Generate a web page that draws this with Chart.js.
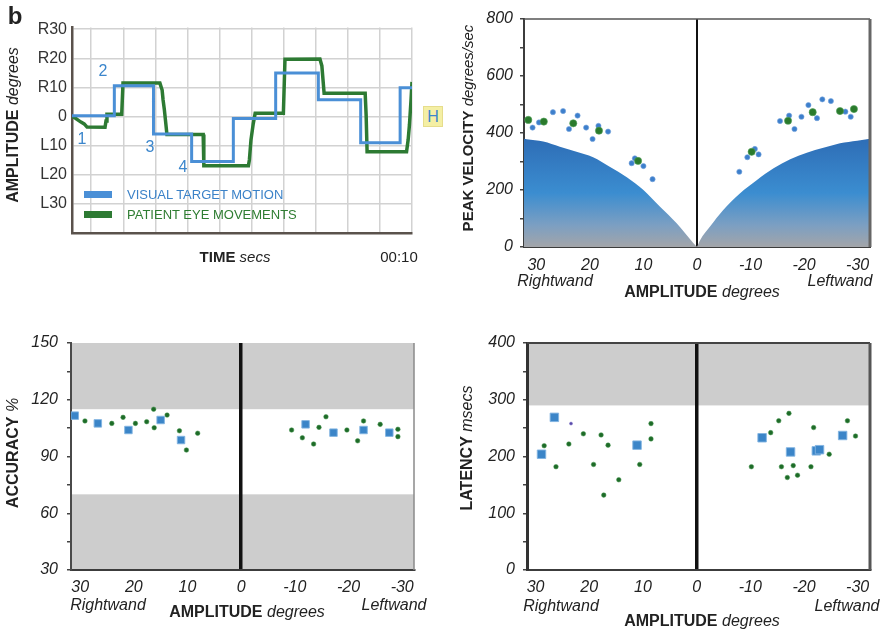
<!DOCTYPE html>
<html>
<head>
<meta charset="utf-8">
<script src="https://cdn.jsdelivr.net/npm/chart.js@4.4.1/dist/chart.umd.min.js"></script>
<style>
  html, body { margin: 0; padding: 0; background: #fff; }
  #page { position: relative; width: 890px; height: 633px; overflow: hidden;
          font-family: 'Liberation Sans', Arial, sans-serif; color: #222; }
  canvas { position: absolute; }
  .lbl { position: absolute; white-space: nowrap; transform: translate(-50%, -50%);
         line-height: 1; font-size: 16px; }
  .rot { transform: translate(-50%, -50%) rotate(-90deg); }
  .lbl i { font-style: italic; font-weight: normal; }
  .step { color: #3b86cc; }
  .key { position: absolute; width: 28px; height: 7px; }
</style>
</head>
<body>
<div id="page">
  <canvas id="trace" width="445" height="316" style="left:0;top:0"></canvas>
  <canvas id="velocity" width="445" height="316" style="left:445px;top:0"></canvas>
  <canvas id="accuracy" width="445" height="317" style="left:0;top:316px"></canvas>
  <canvas id="latency" width="445" height="317" style="left:445px;top:316px"></canvas>

  <!-- saccade trace panel -->
  <div class="lbl" style="left:15px;top:16px;font-size:24px;font-weight:bold">b</div>
  <div class="lbl rot" style="left:13px;top:125px"><b>AMPLITUDE</b> <i>degrees</i></div>
  <div class="lbl" style="left:235px;top:256px;font-size:15px"><b>TIME</b> <i>secs</i></div>
  <div class="lbl" style="left:399px;top:256px;font-size:15px">00:10</div>
  <div class="lbl step" style="left:82px;top:139px">1</div>
  <div class="lbl step" style="left:103px;top:71px">2</div>
  <div class="lbl step" style="left:150px;top:147px">3</div>
  <div class="lbl step" style="left:183px;top:167px">4</div>
  <div style="position:absolute;left:423px;top:106px;width:20px;height:21px;background:#f4efa4;border:1px solid #e6dd8c;box-sizing:border-box;color:#3b86cc;font-size:16px;line-height:19px;text-align:center">H</div>
  <div class="key" style="left:84px;top:191px;background:#4a8fd6"></div>
  <div class="lbl" style="left:127px;top:194px;transform:translate(0,-50%);font-size:13px;color:#3b82c8">VISUAL TARGET MOTION</div>
  <div class="key" style="left:84px;top:211px;background:#2d7a33"></div>
  <div class="lbl" style="left:127px;top:214px;transform:translate(0,-50%);font-size:13px;color:#2f7d32">PATIENT EYE MOVEMENTS</div>

  <!-- peak velocity panel -->
  <div class="lbl rot" style="left:467px;top:128px;font-size:15px"><b>PEAK VELOCITY</b> <i>degrees/sec</i></div>
  <div class="lbl" style="left:555px;top:281px"><i>Rightwand</i></div>
  <div class="lbl" style="left:840px;top:281px"><i>Leftwand</i></div>
  <div class="lbl" style="left:702px;top:292px"><b>AMPLITUDE</b> <i>degrees</i></div>

  <!-- accuracy panel -->
  <div class="lbl rot" style="left:13px;top:453px"><b>ACCURACY</b> <i>%</i></div>
  <div class="lbl" style="left:108px;top:605px"><i>Rightwand</i></div>
  <div class="lbl" style="left:394px;top:605px"><i>Leftwand</i></div>
  <div class="lbl" style="left:247px;top:612px"><b>AMPLITUDE</b> <i>degrees</i></div>

  <!-- latency panel -->
  <div class="lbl rot" style="left:467px;top:448px"><b>LATENCY</b> <i>msecs</i></div>
  <div class="lbl" style="left:561px;top:606px"><i>Rightwand</i></div>
  <div class="lbl" style="left:847px;top:606px"><i>Leftwand</i></div>
  <div class="lbl" style="left:702px;top:621px"><b>AMPLITUDE</b> <i>degrees</i></div>
</div>

<script>
// ---- saccade trace: target steps and recorded eye position ----
const traceTicks = [30, 20, 10, 0, -10, -20, -30];
const traceTickLabels = ['R30', 'R20', 'R10', '0', 'L10', 'L20', 'L30'];
const timeTicks = [0, 1, 2, 3, 4, 5, 6, 7, 8, 9, 10];

const targetT   = [-0.6, 0.72, 0.72, 1.94, 1.94, 3.13, 3.13, 4.43, 4.43, 5.75, 5.75, 7.08, 7.08, 8.40, 8.40, 9.63, 9.63, 10];
const targetAmp = [0.3, 0.3, 10.6, 10.6, -6, -6, -15.4, -15.4, -0.7, -0.7, 15, 15, 5.8, 5.8, -9, -9, 9.9, 9.9];

const eyeT   = [-0.58, -0.5, -0.41, -0.32, -0.22, -0.13, 0.43, 0.46, 0.49, 0.95, 0.99, 2.14, 2.21, 2.24, 2.28, 2.32, 2.36,
                3.49, 3.51, 4.90, 4.93, 4.98, 5.05, 5.11, 5.99, 6.04, 7.13, 7.19, 7.26, 8.54, 8.57, 8.60, 9.83, 9.88, 9.92, 9.97, 10];
const eyeAmp = [0, -0.5, -1.2, -1.9, -2.5, -3.6, -3.7, -1.5, 0.8, 0.8, 11.5, 11.5, 9.1, 5.7, 2.3, -1.9, -6.2,
                -6.2, -16.9, -16.9, -14.9, -8.0, -2.5, 1.1, 1.1, 19.7, 19.8, 17.4, 8.0, 8.0, 0.5, -12.1, -12.1, -8.0, -2.9, 5.7, 11.9];

// ---- shared amplitude axis for the three summary panels ----
const amplitudeTicks = [30, 20, 10, 0, -10, -20, -30];

// ---- peak velocity ----
const mainSeqRightAmp = [0, 0.7, 3.8, 6.9, 10, 13.1, 16.3, 19.4, 22.5, 25.6, 28.7, 31.8, 32.3];
const mainSeqRightVel = [0, 14, 83, 141, 200, 245, 282, 315, 334, 352, 370, 378, 380];
const mainSeqLeftAmp  = [-32.3, -31.7, -29.9, -26.7, -23.6, -20.5, -17.4, -14.3, -11.2, -8.0, -4.9, -2.4, -0.6, 0];
const mainSeqLeftVel  = [380, 378, 373, 364, 348, 331, 308, 276, 235, 188, 130, 71, 25, 0];

const velBlueAmp = [30.7, 29.5, 26.9, 25.0, 22.3, 23.9, 20.7, 19.5, 18.4, 16.6, 12.2, 11.6, 10.0, 8.3,
                    -7.9, -9.4, -10.8, -11.5, -15.5, -17.2, -18.2, -19.5, -20.8, -22.4, -23.4, -25.0, -27.7, -28.7];
const velBlueVal = [419, 437, 473, 477, 461, 414, 419, 379, 425, 405, 294, 311, 284, 238,
                    264, 315, 344, 325, 442, 461, 414, 457, 498, 452, 518, 512, 475, 457];
const velGreenAmp = [31.5, 28.6, 23.1, 18.3, 11.0, -10.2, -17.0, -21.6, -26.7, -29.3];
const velGreenVal = [446, 440, 434, 408, 302, 334, 443, 473, 477, 484];

// ---- accuracy ----
const accuracyShade = [[115, 150], [30, 70]];
const accBlueAmp = [31.0, 26.7, 21.0, 15.0, 11.2, -12.0, -17.2, -22.8, -27.6];
const accBlueVal = [111.6, 107.5, 104.0, 109.3, 98.7, 107.0, 102.6, 104.0, 102.6];
const accGreenAmp = [29.1, 24.1, 22.0, 19.7, 17.6, 16.3, 16.2, 13.8, 11.5, 8.1, 10.2,
                     -9.4, -11.4, -13.5, -14.5, -15.8, -19.7, -21.7, -22.8, -25.9, -29.2, -29.2];
const accGreenVal = [108.8, 107.5, 110.7, 107.5, 108.4, 115.0, 105.2, 111.9, 103.6, 102.3, 93.4,
                     104.0, 99.9, 96.6, 105.4, 111.0, 104.0, 98.3, 108.8, 107.0, 104.4, 100.5];

// ---- latency ----
const latencyShade = [[290, 400]];
const latBlueAmp = [28.9, 26.5, 11.1, -12.2, -17.5, -22.3, -22.9, -27.2];
const latBlueVal = [204, 269, 220, 233, 208, 210, 212, 237];
const latGreenAmp = [28.4, 26.2, 23.8, 21.1, 19.2, 17.8, 16.5, 17.3, 14.5, 10.6, 8.5, 8.5,
                     -10.2, -13.8, -15.3, -15.8, -17.2, -16.9, -18.0, -18.8, -21.3, -21.8, -24.7, -28.1, -29.6];
const latGreenVal = [219, 182, 222, 240, 186, 238, 220, 132, 159, 186, 231, 258,
                     182, 242, 263, 182, 276, 163, 184, 167, 182, 251, 204, 263, 236];
const latOddAmp = [23.4];
const latOddVal = [258];

const xy = (xs, ys) => xs.map((x, i) => ({ x, y: ys[i] }));
const fixTicks = vals => s => { s.ticks = vals.map(v => ({ value: v })); };

Chart.defaults.font.family = "'Liberation Sans', Arial, sans-serif";
Chart.defaults.color = '#222';
Chart.defaults.animation = false;

// grey "out of range" bands behind the data
const bands = {
  id: 'bands',
  beforeDraw(chart, args, opts) {
    if (!opts.ranges) return;
    const { ctx, chartArea: a, scales: { y } } = chart;
    ctx.save();
    ctx.fillStyle = opts.color;
    opts.ranges.forEach(([lo, hi]) => {
      const top = y.getPixelForValue(hi), bot = y.getPixelForValue(lo);
      ctx.fillRect(a.left, top, a.right - a.left, bot - top);
    });
    ctx.restore();
  }
};

// top / right edges of the plot box
const frame = {
  id: 'frame',
  afterDatasetsDraw(chart, args, opts) {
    const { ctx, chartArea: a } = chart;
    ctx.save();
    if (opts.top) {
      ctx.strokeStyle = opts.top.color; ctx.lineWidth = opts.top.width;
      ctx.beginPath(); ctx.moveTo(a.left, a.top); ctx.lineTo(a.right, a.top); ctx.stroke();
    }
    if (opts.right) {
      ctx.strokeStyle = opts.right.color; ctx.lineWidth = opts.right.width;
      ctx.beginPath(); ctx.moveTo(a.right, a.top); ctx.lineTo(a.right, a.bottom); ctx.stroke();
    }
    ctx.restore();
  }
};

const tickFont = { size: 16, style: 'italic' };

function amplitudeAxis(min, max, bottomSpace, pad, centerWidth) {
  return {
    type: 'linear', reverse: true, min, max,
    afterBuildTicks: fixTicks(amplitudeTicks),
    afterFit: s => { s.height = bottomSpace; },
    ticks: { font: tickFont, padding: pad, autoSkip: false, maxRotation: 0, callback: v => String(v) },
    grid: {
      drawTicks: false,
      color: c => (c.tick && c.tick.value === 0 ? '#111' : 'rgba(0,0,0,0)'),
      lineWidth: centerWidth
    },
    border: { color: '#3c3c3c', width: 2 }
  };
}

function dots(data, color, edge, r, style) {
  return {
    data, pointStyle: style || 'circle', pointRadius: r, backgroundColor: color,
    borderColor: edge, borderWidth: 1
  };
}

// ---------- panel: trace ----------
new Chart(document.getElementById('trace'), {
  type: 'scatter',
  data: {
    datasets: [
      { label: 'VISUAL TARGET MOTION', data: xy(targetT, targetAmp), showLine: true,
        borderColor: '#4a8fd6', borderWidth: 3, pointRadius: 0, fill: false },
      { label: 'PATIENT EYE MOVEMENTS', data: xy(eyeT, eyeAmp), showLine: true,
        borderColor: '#2d7a33', borderWidth: 3.5, pointRadius: 0, fill: false }
    ]
  },
  options: {
    responsive: false, events: [],
    layout: { padding: { left: 0, top: 27.5, right: 33, bottom: 0 } },
    plugins: { legend: { display: false }, tooltip: { enabled: false } },
    scales: {
      x: {
        type: 'linear', min: -0.6, max: 10,
        afterBuildTicks: fixTicks(timeTicks),
        afterFit: s => { s.height = 316 - 233; },
        ticks: { display: false },
        grid: { color: '#d2d2d2', lineWidth: 1.5, drawTicks: false },
        border: { color: '#5a524c', width: 2.5 }
      },
      y: {
        min: -40, max: 30.6,
        afterBuildTicks: fixTicks(traceTicks),
        afterFit: s => { s.width = 72; },
        ticks: { font: { size: 16 }, color: '#333', padding: 5,
                 callback: v => traceTickLabels[traceTicks.indexOf(v)] },
        grid: { color: '#d2d2d2', lineWidth: 1.5, drawTicks: false },
        border: { color: '#5a524c', width: 2.5 }
      }
    }
  }
});

// ---------- panel: peak velocity ----------
function mainSeqFill(c) {
  const chart = c.chart, a = chart.chartArea;
  if (!a) return 'rgba(50,120,190,0.9)';
  const y = chart.scales.y;
  const g = chart.ctx.createLinearGradient(0, y.getPixelForValue(380), 0, y.getPixelForValue(0));
  g.addColorStop(0, '#2e6db6');
  g.addColorStop(0.5, '#3b8dd0');
  g.addColorStop(0.8, '#7c9fc2');
  g.addColorStop(1, '#a3a5a9');
  return g;
}

const mainSeqStyle = {
  type: 'line', fill: 'origin', borderWidth: 0, pointRadius: 0,
  cubicInterpolationMode: 'monotone', backgroundColor: mainSeqFill, order: 5
};

new Chart(document.getElementById('velocity'), {
  type: 'scatter',
  data: {
    datasets: [
      { ...dots(xy(velGreenAmp, velGreenVal), '#2a7a2c', 'rgba(80,160,90,0.6)', 3.6), order: 0 },
      { ...dots(xy(velBlueAmp, velBlueVal), '#3d7fcc', 'rgba(120,165,220,0.6)', 2.6), order: 1 },
      { ...mainSeqStyle, data: xy(mainSeqRightAmp, mainSeqRightVel) },
      { ...mainSeqStyle, data: xy(mainSeqLeftAmp, mainSeqLeftVel) }
    ]
  },
  options: {
    responsive: false, events: [],
    layout: { padding: { left: 0, top: 19, right: 20, bottom: 0 } },
    plugins: {
      legend: { display: false }, tooltip: { enabled: false },
      frame: { top: { color: '#555', width: 1.5 }, right: { color: '#666', width: 3 } }
    },
    scales: {
      x: amplitudeAxis(-32.3, 32.3, 316 - 247, 9, 2),
      y: {
        min: 0, max: 800,
        afterFit: s => { s.width = 79; },
        ticks: { stepSize: 100, font: tickFont, padding: 7, callback: v => (v % 200 === 0 ? v : '') },
        grid: { drawOnChartArea: false, drawTicks: true, tickLength: 4, color: '#444', lineWidth: 1.5 },
        border: { color: '#3c3c3c', width: 2 }
      }
    }
  },
  plugins: [frame]
});

// ---------- panel: accuracy ----------
new Chart(document.getElementById('accuracy'), {
  type: 'scatter',
  data: {
    datasets: [
      dots(xy(accBlueAmp, accBlueVal), '#3b85c8', 'rgba(130,180,225,0.9)', 5.3, 'rect'),
      dots(xy(accGreenAmp, accGreenVal), '#1e6b28', 'rgba(70,150,80,0.5)', 2.3)
    ]
  },
  options: {
    responsive: false, events: [],
    layout: { padding: { left: 0, top: 27, right: 31, bottom: 0 } },
    plugins: {
      legend: { display: false }, tooltip: { enabled: false },
      bands: { ranges: accuracyShade, color: '#cdcdcd' },
      frame: { right: { color: '#8a8a8a', width: 1.5 } }
    },
    scales: {
      x: amplitudeAxis(-32.2, 31.7, 317 - 254, 8, 3.5),
      y: {
        min: 30, max: 150,
        afterFit: s => { s.width = 71; },
        ticks: { stepSize: 15, font: tickFont, padding: 9, callback: v => ((v - 30) % 30 === 0 ? v : '') },
        grid: { drawOnChartArea: false, drawTicks: true, tickLength: 4, color: '#444', lineWidth: 1.5 },
        border: { color: '#4a4a4a', width: 2 }
      }
    }
  },
  plugins: [bands, frame]
});

// ---------- panel: latency ----------
new Chart(document.getElementById('latency'), {
  type: 'scatter',
  data: {
    datasets: [
      dots(xy(latBlueAmp, latBlueVal), '#3b85c8', 'rgba(130,180,225,0.9)', 6, 'rect'),
      dots(xy(latOddAmp, latOddVal), '#5a4aa8', 'rgba(120,110,200,0.5)', 1.5),
      dots(xy(latGreenAmp, latGreenVal), '#1e6b28', 'rgba(70,150,80,0.5)', 2.3)
    ]
  },
  options: {
    responsive: false, events: [],
    layout: { padding: { left: 0, top: 27, right: 20, bottom: 0 } },
    plugins: {
      legend: { display: false }, tooltip: { enabled: false },
      bands: { ranges: latencyShade, color: '#cdcdcd' },
      frame: { top: { color: '#444', width: 2 }, right: { color: '#555', width: 3 } }
    },
    scales: {
      x: amplitudeAxis(-32.3, 31.6, 317 - 254, 8, 3.5),
      y: {
        min: 0, max: 400,
        afterFit: s => { s.width = 82; },
        ticks: { stepSize: 50, font: tickFont, padding: 8, callback: v => (v % 100 === 0 ? v : '') },
        grid: { drawOnChartArea: false, drawTicks: true, tickLength: 4, color: '#444', lineWidth: 1.5 },
        border: { color: '#333', width: 3 }
      }
    }
  },
  plugins: [bands, frame]
});
</script>
</body>
</html>
